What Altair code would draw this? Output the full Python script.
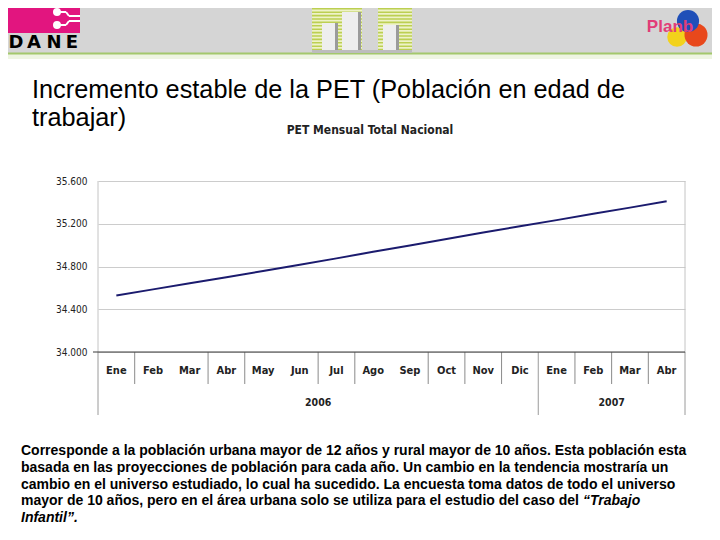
import altair as alt
import pandas as pd

# ---------------- data ----------------
months = ["Ene", "Feb", "Mar", "Abr", "May", "Jun", "Jul", "Ago", "Sep", "Oct",
          "Nov", "Dic", "Ene", "Feb", "Mar", "Abr"]
pet = [34529, 34586, 34643, 34700, 34758, 34816, 34876, 34937, 34997, 35057,
       35118, 35176, 35234, 35293, 35351, 35410]
years = ["2006", "2007"]
months_per_year = [12, 4]
y_ticks = [34000, 34400, 34800, 35200, 35600]
short_sep_after = [0, 2, 3, 5, 6, 8, 9, 10, 12, 13, 14]

slide_title = ["Incremento estable de la PET (Población en edad de", "trabajar)"]
chart_title = "PET Mensual Total Nacional"
paragraph = [
    "Corresponde a la población urbana mayor de 12 años y rural mayor de 10 años. Esta población esta",
    "basada en las proyecciones de población para cada año. Un cambio en la tendencia mostraría un",
    "cambio en el universo estudiado, lo cual ha sucedido. La encuesta toma datos de todo el universo",
    "mayor de 10 años, pero en el área urbana solo se utiliza para el estudio del caso del",
]
paragraph_italic = ["“Trabajo", "Infantil”."]

# ---------------- tables ----------------
n = len(months)
df = pd.DataFrame({"i": list(range(n)), "m": months, "v": pet})
starts = [sum(months_per_year[:k]) for k in range(len(years))]
df_year = pd.DataFrame({"i": [s + c / 2 - 0.5 for s, c in zip(starts, months_per_year)], "y": years})
df_short = pd.DataFrame({"p": [k + 0.5 for k in short_sep_after]})
long_pos = [-0.5] + [s + c - 0.5 for s, c in zip(starts, months_per_year)]
df_long = pd.DataFrame({"p": long_pos})
df_border = pd.DataFrame({"p": [-0.5, n - 0.5]})
one = pd.DataFrame({"a": [0]})

W, H = 587, 171
OX, OY = 98, 181  # page position of plot origin

XS = alt.Scale(domain=[-0.5, n - 0.5], nice=False, zero=False)
YS = alt.Scale(domain=[34000, 35600], nice=False, zero=False)
NARROW = "Liberation Sans Narrow, DejaVu Sans Condensed, Arial Narrow, sans-serif"
SANS = "Liberation Sans, Arial, sans-serif"


def rect(x1, y1, x2, y2, color, **kw):
    return alt.Chart(one).mark_rect(color=color, **kw).encode(
        x=alt.value(x1 - OX), x2=alt.value(x2 - OX),
        y=alt.value(y1 - OY), y2=alt.value(y2 - OY))


def seg(x1, y1, x2, y2, color, width=1, **kw):
    return alt.Chart(one).mark_rule(color=color, strokeWidth=width, **kw).encode(
        x=alt.value(x1 - OX), x2=alt.value(x2 - OX),
        y=alt.value(y1 - OY), y2=alt.value(y2 - OY))


def txt(s, x, y, size, font=SANS, weight="normal", color="#000000", align="left", style="normal"):
    return alt.Chart(one).mark_text(
        text=s, align=align, baseline="middle", font=font, fontSize=size,
        fontWeight=weight, fontStyle=style, color=color).encode(
        x=alt.value(x - OX), y=alt.value(y - OY))


def dot(x, y, r, color):
    return alt.Chart(one).mark_point(filled=True, opacity=1, color=color, size=3.1416 * r * r).encode(
        x=alt.value(x - OX), y=alt.value(y - OY))


# ---------------- header decoration ----------------
L = 8  # DANE logo left edge (page margin keeps x < 8 hidden)
deco = [
    rect(0, 0, 720, 53, "#d5d5d5"),
    rect(0, 54, 720, 59, "#eef5e2"),
    seg(0, 53.5, 720, 53.5, "#a3c86c", 2),
    # DANE logo
    rect(L, 8, L + 72, 33, "#e2157f"),
    seg(L + 49, 12, L + 58, 12, "white", 2), seg(L + 58, 12, L + 61, 16, "white", 2),
    seg(L + 61, 16, L + 72, 16, "white", 2),
    seg(L + 49, 25, L + 58, 25, "white", 2), seg(L + 58, 25, L + 61, 21, "white", 2),
    seg(L + 61, 21, L + 72, 21, "white", 2),
    dot(L + 49, 12, 4.5, "white"), dot(L + 49, 25, 4.5, "white"),
    txt("D", L + 8, 43, 18, font="DejaVu Sans", weight="bold", align="center"),
    txt("A", L + 26, 43, 18, font="DejaVu Sans", weight="bold", align="center"),
    txt("N", L + 46, 43, 18, font="DejaVu Sans", weight="bold", align="center"),
    txt("E", L + 64, 43, 18, font="DejaVu Sans", weight="bold", align="center"),
    # middle building graphic
    rect(312, 0, 362, 52, "#eef2c8"),
    rect(378, 0, 412, 52, "#eef2c8"),
    seg(337, 8, 337, 52, "#bccf52", 50, strokeDash=[1.6, 1.8]),
    seg(395, 8, 395, 52, "#bccf52", 34, strokeDash=[1.6, 1.8]),
    rect(322, 23, 335, 52, "#eeeeee"), rect(335, 23, 338, 52, "#9b9b9b"),
    rect(342, 12, 358, 52, "#eeeeee"), rect(358, 12, 361, 52, "#9b9b9b"),
    rect(383, 25, 396, 52, "#eeeeee"), rect(396, 25, 399, 52, "#9b9b9b"),
    rect(312, 50, 412, 53, "#bdbdbd"),
    # Planb logo
    dot(677, 37, 11, "#f2d21c"),
    dot(696, 35, 13, "#e8481c"),
    dot(688, 21, 12.5, "#1f4fb8"),
    txt("Planb", 670, 27, 17, weight="bold", color="#e23d78", align="center"),
]

# ---------------- texts ----------------
texts = [
    txt(slide_title[0], 32, 90, 25.3),
    txt(slide_title[1], 32, 118, 25.3),
    txt(chart_title, 370, 130, 12, font=NARROW, weight="bold", color="#222222", align="center"),
]
para_y = [451, 468, 485, 501]
for s, yy in zip(paragraph, para_y):
    texts.append(txt(s, 21, yy, 14, weight="bold"))
texts.append(txt(paragraph_italic[0], 583, 501, 14, weight="bold", style="italic"))
texts.append(txt(paragraph_italic[1], 21, 518, 14, weight="bold", style="italic"))

# ---------------- chart ----------------
base_y = alt.Y("v:Q", scale=YS, axis=alt.Axis(
    values=y_ticks, labelExpr="replace(format(datum.value, ','), ',', '.')",
    ticks=False, domain=False, grid=True, gridColor="#cccccc", gridWidth=1,
    labelFont=NARROW, labelFontSize=10, labelColor="#222222", labelPadding=11, title=None))

line = alt.Chart(df).mark_line(color="#1b1b6e", strokeWidth=2).encode(
    x=alt.X("i:Q", scale=XS, axis=None), y=base_y)

borders = alt.Chart(df_border).mark_rule(color="#c4c4c4", strokeWidth=1).encode(
    x=alt.X("p:Q", scale=XS, axis=None), y=alt.value(0), y2=alt.value(H))
short = alt.Chart(df_short).mark_rule(color="#8a8a8a", strokeWidth=1).encode(
    x=alt.X("p:Q", scale=XS, axis=None), y=alt.value(H), y2=alt.value(H + 32))
longs = alt.Chart(df_long).mark_rule(color="#9a9a9a", strokeWidth=1).encode(
    x=alt.X("p:Q", scale=XS, axis=None), y=alt.value(H), y2=alt.value(H + 63))
xaxis = alt.Chart(one).mark_rule(color="#3a3a3a", strokeWidth=1).encode(
    y=alt.datum(34000, scale=YS), x=alt.value(-5), x2=alt.value(W))
mlabels = alt.Chart(df).mark_text(font=NARROW, fontSize=11, fontWeight="bold", color="#222222",
                                  baseline="middle").encode(
    x=alt.X("i:Q", scale=XS, axis=None), y=alt.value(371 - OY), text="m:N")
ylabels = alt.Chart(df_year).mark_text(font=NARROW, fontSize=10.5, fontWeight="bold", color="#222222",
                                       baseline="middle").encode(
    x=alt.X("i:Q", scale=XS, axis=None), y=alt.value(403 - OY), text="y:N")

chart = alt.layer(
    *deco, *texts, line, borders, short, longs, xaxis, mlabels, ylabels
).properties(
    width=W, height=H,
    padding={"left": 90, "top": 173, "right": 27, "bottom": 180},
    autosize=alt.AutoSizeParams(type="none"),
    background="white",
).configure_view(stroke=None)

chart.save("out.html", embed_options={"renderer": "svg", "actions": False})
